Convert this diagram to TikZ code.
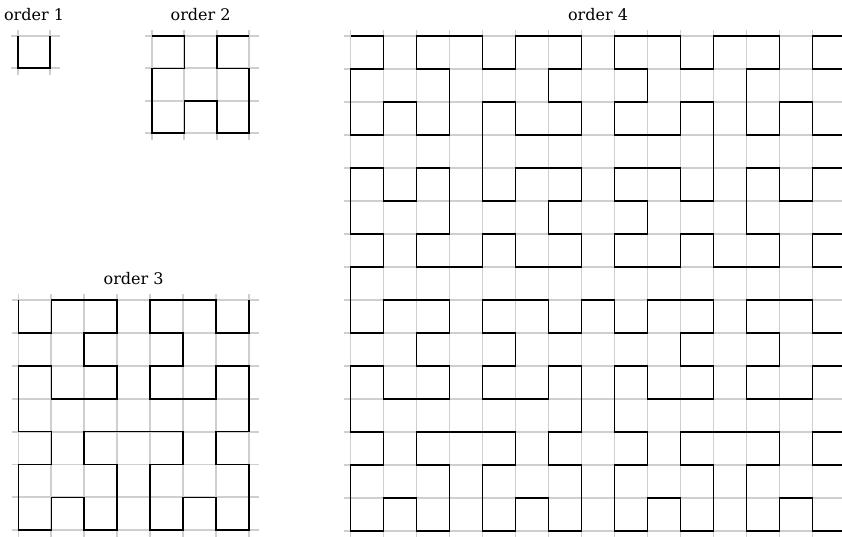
\documentclass[tikz,border=0pt]{standalone}
\usepackage{fontspec}
\setmainfont{DejaVu Serif}
\usetikzlibrary{lindenmayersystems}

\pgfdeclarelindenmayersystem{Hilbert}{
  \rule{L -> +RF-LFL-FR+}
  \rule{R -> -LF+RFR+FL-}}

\tikzset{
  gridline/.style={draw=black!19, line width=1.9pt},
  curve/.style={draw=black, line width=1.7pt, line join=miter},
  paneltitle/.style={font=\fontsize{16}{18}\selectfont, anchor=base}
}

% order, left x, top y, step, node name
\newcommand{\hilbertpanel}[5]{%
  \pgfmathtruncatemacro{\npts}{2^#1-1}
  \pgfmathsetmacro{\xend}{#2+\npts*#4}
  \pgfmathsetmacro{\yend}{#3-\npts*#4}
  \foreach \i in {0,...,\npts} {
    \draw[gridline] (#2-7,#3-\i*#4) -- (\xend+10,#3-\i*#4);
    \draw[gridline] (#2+\i*#4,#3+6) -- (#2+\i*#4,\yend-7);
  }
  \node[paneltitle] (#5) at ({(#2+\xend)/2},#3+15) {order #1};
  \draw[curve, shift={(#2,#3)},
    lindenmayer system={Hilbert, axiom=R, order=#1, step=#4pt, angle=90}]
    (0,0) lindenmayer system;
}

\begin{document}
\begin{tikzpicture}[x=1pt,y=1pt]
\useasboundingbox (0,0) rectangle (842,537);
\clip (0,0) rectangle (842,537);

\hilbertpanel{1}{18}{501}{32}{one}
\hilbertpanel{2}{152}{501}{32.4}{two}
\hilbertpanel{3}{18.5}{237}{32.9}{three}
\hilbertpanel{4}{350.5}{501}{33}{four}
\end{tikzpicture}
\end{document}
